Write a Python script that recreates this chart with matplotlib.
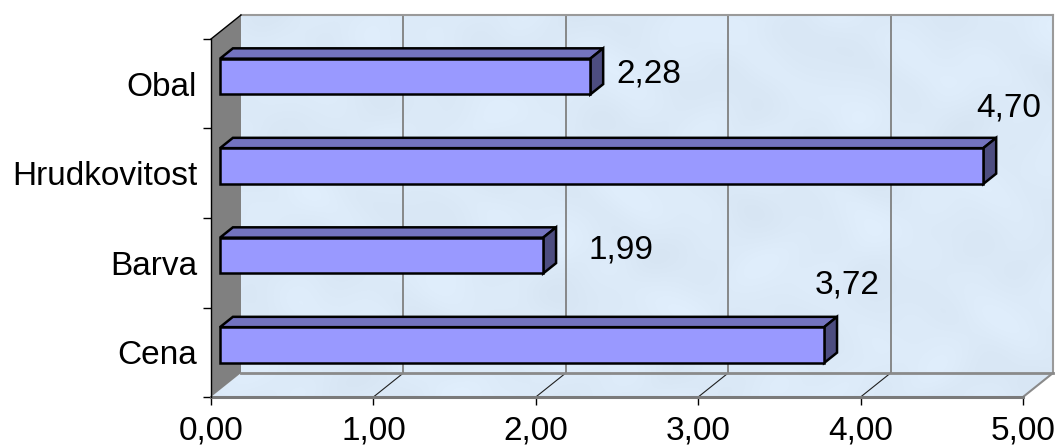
import numpy as np
import matplotlib
matplotlib.use("Agg")
import matplotlib.pyplot as plt
from matplotlib.patches import Polygon
from matplotlib.lines import Line2D
from matplotlib.transforms import IdentityTransform
from matplotlib.ticker import FuncFormatter

plt.rcParams['font.family'] = ['Liberation Sans', 'DejaVu Sans']

categories = ["Cena", "Barva", "Hrudkovitost", "Obal"]
values = [3.72, 1.99, 4.70, 2.28]
x_ticks = [0, 1, 2, 3, 4, 5]

# label offsets (pixels) from the bar end
label_offsets = [(32, 59), (87, 4), (34, 57), (68, 1)]

W, H, DPI = 1061, 448, 100
fig = plt.figure(figsize=(W / DPI, H / DPI), dpi=DPI)
fig.patch.set_facecolor("white")

# axes = front plane of the 3-D box
x0, x1, ytop, ybot = 211, 1023, 39, 397
ax = fig.add_axes([x0 / W, (H - ybot) / H, (x1 - x0) / W, (ybot - ytop) / H])
ax.set_xlim(0, 5)
ax.set_ylim(-0.5, len(categories) - 0.5)
ax.patch.set_alpha(0)

DEPTH_DX, DEPTH_DY = 30.0, 24.0
BAR_F0, BAR_F1 = 0.30, 0.73
BAR_H = 0.4

ident = IdentityTransform()


def proj(x, y, f):
    px, py = ax.transData.transform((x, y))
    return (px + f * DEPTH_DX, py + f * DEPTH_DY)


def poly(pts, fc, ec="none", lw=0, z=1):
    p = Polygon(pts, closed=True, facecolor=fc, edgecolor=ec, linewidth=lw,
                transform=ident, clip_on=False, zorder=z, joinstyle="miter")
    ax.add_patch(p)
    return p


def line(p0, p1, color, lw, z=1.5):
    ax.add_line(Line2D([p0[0], p1[0]], [p0[1], p1[1]], color=color, lw=lw,
                       transform=ident, clip_on=False, zorder=z))


def marble(clip_patch, z):
    # soft mottled fill, built from a few overlapping waves
    gx, gy = np.meshgrid(np.arange(0, W, 2.0), np.arange(0, H, 2.0))
    n = (np.sin(gx * 0.037 + gy * 0.061) + np.sin(gx * 0.019 - gy * 0.047 + 1.3)
         + 0.6 * np.sin(gx * 0.083 + np.sin(gy * 0.05) * 2.0 + 0.4)
         + 0.5 * np.sin(gy * 0.071 + np.sin(gx * 0.03) * 2.5 + 2.1))
    n = n / np.abs(n).max()
    base = np.array([220, 234, 248]) / 255.0
    img = np.clip(base[None, None, :] + 0.018 * n[..., None], 0, 1)
    im = ax.imshow(img, extent=(0, W, 0, H), origin="lower", transform=ident,
                   interpolation="bilinear", zorder=z, aspect="auto")
    im.set_clip_box(fig.bbox)
    im.set_clip_path(clip_patch)


ylo, yhi = -0.5, len(categories) - 0.5

# back wall
wall = poly([proj(0, ylo, 1), proj(5, ylo, 1), proj(5, yhi, 1), proj(0, yhi, 1)], "#dcebf8", z=0.5)
marble(wall, 0.55)
# floor
flr = poly([proj(0, ylo, 0), proj(5, ylo, 0), proj(5, ylo, 1), proj(0, ylo, 1)], "#d8e8f6", z=0.5)
marble(flr, 0.55)
# left side wall
poly([proj(0, ylo, 0), proj(0, ylo, 1), proj(0, yhi, 1), proj(0, yhi, 0)], "#808080", z=0.6)

# gridlines on back wall and floor
for t in x_ticks[1:-1]:
    line(proj(t, ylo, 1), proj(t, yhi, 1), "#808080", 1.3)
    line(proj(t, ylo, 0), proj(t, ylo, 1), "#202020", 0.8)
# box edges
line(proj(0, yhi, 1), proj(5, yhi, 1), "#9a9a9a", 1.5)
line(proj(5, ylo, 1), proj(5, yhi, 1), "#9a9a9a", 1.5)
line(proj(0, ylo, 1), proj(5, ylo, 1), "#8a8a8a", 2.0)
line(proj(5, ylo, 0), proj(5, ylo, 1), "#8a8a8a", 1.5)
line(proj(0, yhi, 0), proj(0, yhi, 1), "black", 1.0)
line(proj(0, ylo, 0), proj(5, ylo, 0), "#7a7a7a", 2.2, z=1.6)

# bars
front_c, top_c, side_c = "#9999ff", "#7373bf", "#4d4d80"
for i in range(len(categories) - 1, -1, -1):
    v = values[i]
    yb, yt = i - BAR_H / 2, i + BAR_H / 2
    poly([proj(0, yt, BAR_F0), proj(v, yt, BAR_F0), proj(v, yt, BAR_F1), proj(0, yt, BAR_F1)],
         top_c, "black", 1.8, z=3)
    poly([proj(v, yb, BAR_F0), proj(v, yb, BAR_F1), proj(v, yt, BAR_F1), proj(v, yt, BAR_F0)],
         side_c, "black", 1.8, z=3)
    poly([proj(0, yb, BAR_F0), proj(v, yb, BAR_F0), proj(v, yt, BAR_F0), proj(0, yt, BAR_F0)],
         front_c, "black", 1.8, z=3.1)
    dx, dy = label_offsets[i]
    ax.annotate(f"{v:.2f}".replace(".", ","), xy=(v, i), xytext=(dx, dy),
                textcoords="offset pixels", ha="center", va="baseline",
                fontsize=24, color="black", zorder=4, annotation_clip=False)

# axes decoration
for s in ("top", "right"):
    ax.spines[s].set_visible(False)
ax.spines["left"].set_color("black")
ax.spines["left"].set_linewidth(1.0)
ax.spines["left"].set_zorder(1.7)
ax.spines["bottom"].set_visible(False)

ax.set_xticks(x_ticks)
ax.xaxis.set_major_formatter(FuncFormatter(lambda v, p: f"{v:.2f}".replace(".", ",")))
ax.tick_params(axis="x", direction="out", length=6, width=1, color="black",
               labelsize=24, pad=7)
ax.set_yticks(range(len(categories)))
ax.set_yticklabels(categories)
ax.set_yticks([k - 0.5 for k in range(len(categories) + 1)], minor=True)
ax.tick_params(axis="y", which="major", length=0, labelsize=24, pad=10)
ax.tick_params(axis="y", which="minor", direction="out", length=6, width=1, color="black")
for lab in ax.get_yticklabels():
    lab.set_verticalalignment("center_baseline")

fig.savefig("out.png", dpi=DPI, facecolor="white")
